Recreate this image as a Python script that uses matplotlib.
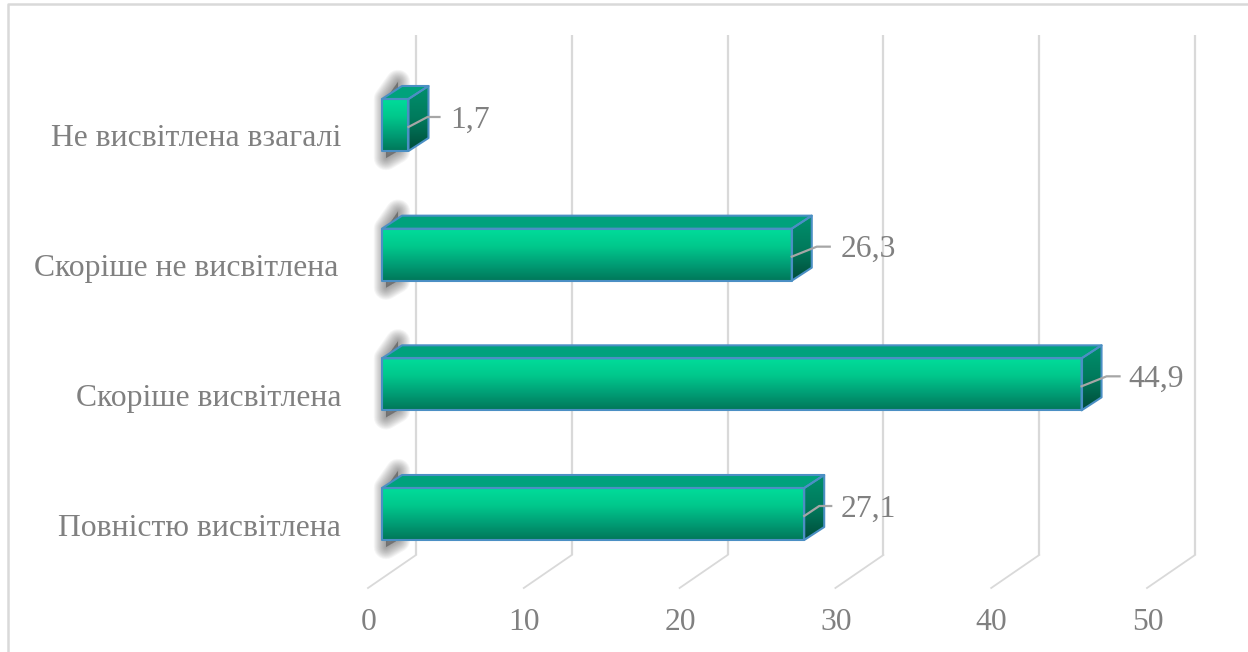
import numpy as np
import matplotlib
matplotlib.use('Agg')
import matplotlib.pyplot as plt
from matplotlib.colors import LinearSegmentedColormap
from matplotlib.lines import Line2D
from matplotlib.patches import Polygon

plt.rcParams['font.family'] = ['Liberation Serif', 'DejaVu Serif']

categories = ['Повністю висвітлена', 'Скоріше висвітлена', 'Скоріше не висвітлена', 'Не висвітлена взагалі']
values = [27.1, 44.9, 26.3, 1.7]
value_labels = ['27,1', '44,9', '26,3', '1,7']
ticks = [0, 10, 20, 30, 40, 50]

# pixel layout of the reference, the axes fills the whole figure
W, H = 1248, 652
px_x = 15.58    # pixels per unit of value
px_y = 129.67   # pixels per category
x0, y0 = 382, 514

dx = 20 / px_x      # bar depth
dy = 13 / px_y
bar_h = 52 / px_y
wall_dx = 34 / px_x
floor_y = (y0 - 555) / px_y
top_y = (y0 - 35) / px_y

# label start, leader knee and leader end, in pixels right of the bar front
label_off = [36, 47, 49, 42]
knee_off = [15, 25, 25, 19]
end_off = [27, 38, 38, 31]
# right edge of the category labels, in pixels left of zero
cat_right = [41, 41, 44, 41]

text_col = '#808080'
grid_col = '#d9d9d9'
edge_col = '#4b8fc4'
font_size = 22.8

front_cmap = LinearSegmentedColormap.from_list('front', ['#00dc9a', '#00c88c', '#009f76', '#00785a'])
side_cmap = LinearSegmentedColormap.from_list('side', ['#008f6c', '#007a5c', '#004c3a'])

fig = plt.figure(figsize=(W / 100, H / 100), dpi=100)
ax = fig.add_axes([0, 0, 1, 1])
ax.axis('off')

grad = np.linspace(0, 1, 64).reshape(-1, 1)


def gradient_face(points, cmap, z):
    xs = [p[0] for p in points]
    ys = [p[1] for p in points]
    im = ax.imshow(grad, cmap=cmap, vmin=0, vmax=1, aspect='auto', zorder=z,
                   extent=[min(xs), max(xs), min(ys), max(ys)], interpolation='bilinear')
    face = Polygon(points, closed=True, transform=ax.transData, facecolor='none', edgecolor='none')
    ax.add_patch(face)
    im.set_clip_path(face)


# gridlines on the wall and floor
for t in ticks:
    gx = t + wall_dx
    ax.plot([gx, gx], [floor_y, top_y], color=grid_col, lw=1.6, zorder=1, solid_capstyle='butt')
    ax.plot([t - 14 / px_x, gx], [(y0 - 588) / px_y, floor_y], color=grid_col, lw=1.3, zorder=1)
    ax.text(t - 13.5 / px_x, (y0 - 622.5) / px_y, str(t), color=text_col, fontsize=font_size,
            ha='center', va='center')

for i, v in enumerate(values):
    lo, hi = i - bar_h / 2, i + bar_h / 2

    # soft shadow behind the left end of each bar
    shadow = [(4 / px_x, lo - 7 / px_y), (4 / px_x, hi), (16 / px_x, hi + 17 / px_y), (16 / px_x, lo)]
    for lw in np.arange(1, 19, 1.5):
        ax.add_patch(Polygon(shadow, closed=True, facecolor='#404040', edgecolor='#404040',
                             lw=lw, alpha=0.05, zorder=2, joinstyle='round'))

    front = [(0, lo), (v, lo), (v, hi), (0, hi)]
    side = [(v, lo), (v + dx, lo + dy), (v + dx, hi + dy), (v, hi)]
    top = [(0, hi), (v, hi), (v + dx, hi + dy), (dx, hi + dy)]

    ax.add_patch(Polygon(top, closed=True, facecolor='#00a27c', edgecolor='none', zorder=3))
    gradient_face(side, side_cmap, 3)
    gradient_face(front, front_cmap, 3)
    for face in (top, side, front):
        ax.add_patch(Polygon(face, closed=True, facecolor='none', edgecolor=edge_col, lw=1.5,
                             zorder=4, joinstyle='round'))

    # leader line and value label
    ax.plot([v, v + knee_off[i] / px_x, v + end_off[i] / px_x],
            [i - 2 / px_y, i + 8 / px_y, i + 8 / px_y],
            color='#a6a6a6', lw=1.6, zorder=5)
    ax.text(v + label_off[i] / px_x, i + 5 / px_y, value_labels[i], color=text_col, fontsize=font_size,
            ha='left', va='center', zorder=6)

    ax.text(-cat_right[i] / px_x, i - 14 / px_y, categories[i], color=text_col, fontsize=font_size,
            ha='right', va='center')

# imshow resets the limits, so set them last
ax.set_xlim(-x0 / px_x, (W - x0) / px_x)
ax.set_ylim((y0 - H) / px_y, y0 / px_y)

# outer frame of the chart area
fig.add_artist(Line2D([7.5 / W, 7.5 / W, 1], [0, 1 - 4 / H, 1 - 4 / H], color=grid_col, lw=1.8))

fig.savefig('out.png', dpi=100)
